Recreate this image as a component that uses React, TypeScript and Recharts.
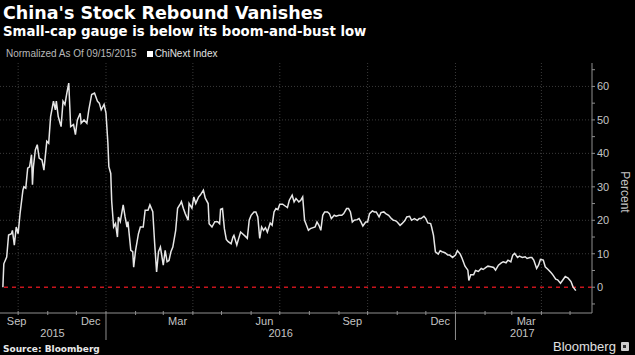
import { LineChart, Line, XAxis, YAxis, CartesianGrid, ReferenceLine } from 'recharts'

document.body.style.margin = '0'
document.body.style.background = '#000'

// ChiNext Index, percent change since 09/15/2015 (one row per month)
const dates = [
  '2015-09-15', '2015-09-16', '2015-09-19', '2015-09-21', '2015-09-24', '2015-09-25', '2015-09-27', '2015-09-29',
  '2015-10-01', '2015-10-03', '2015-10-06', '2015-10-07', '2015-10-09', '2015-10-11', '2015-10-13', '2015-10-15', '2015-10-16', '2015-10-17', '2015-10-19', '2015-10-21', '2015-10-23', '2015-10-26', '2015-10-28', '2015-10-31',
  '2015-11-02', '2015-11-04', '2015-11-07', '2015-11-09', '2015-11-10', '2015-11-12', '2015-11-15', '2015-11-17', '2015-11-19', '2015-11-21', '2015-11-23', '2015-11-25', '2015-11-28', '2015-11-30',
  '2015-12-02', '2015-12-05', '2015-12-06', '2015-12-09', '2015-12-12', '2015-12-14', '2015-12-17', '2015-12-20', '2015-12-23', '2015-12-25', '2015-12-27', '2015-12-30',
  '2016-01-01', '2016-01-03', '2016-01-04', '2016-01-06', '2016-01-07', '2016-01-09', '2016-01-11', '2016-01-13', '2016-01-14', '2016-01-16', '2016-01-19', '2016-01-21', '2016-01-23', '2016-01-24', '2016-01-27', '2016-01-29', '2016-01-30',
  '2016-02-01', '2016-02-04', '2016-02-06', '2016-02-09', '2016-02-11', '2016-02-14', '2016-02-16', '2016-02-19', '2016-02-21', '2016-02-23', '2016-02-25', '2016-02-27',
  '2016-03-01', '2016-03-03', '2016-03-05', '2016-03-07', '2016-03-09', '2016-03-11', '2016-03-14', '2016-03-16', '2016-03-19', '2016-03-20', '2016-03-22', '2016-03-24', '2016-03-27', '2016-03-28', '2016-03-31',
  '2016-04-02', '2016-04-04', '2016-04-07', '2016-04-09', '2016-04-12', '2016-04-14', '2016-04-17', '2016-04-18', '2016-04-21', '2016-04-24', '2016-04-27', '2016-04-29', '2016-04-30',
  '2016-05-02', '2016-05-04', '2016-05-06', '2016-05-08', '2016-05-11', '2016-05-13', '2016-05-14', '2016-05-17', '2016-05-19', '2016-05-21', '2016-05-23', '2016-05-26', '2016-05-28', '2016-05-30',
  '2016-06-01', '2016-06-04', '2016-06-06', '2016-06-08', '2016-06-10', '2016-06-12', '2016-06-14', '2016-06-16', '2016-06-18', '2016-06-21', '2016-06-23', '2016-06-25', '2016-06-27', '2016-06-29',
  '2016-07-01', '2016-07-04', '2016-07-07', '2016-07-09', '2016-07-11', '2016-07-14', '2016-07-16', '2016-07-18', '2016-07-21', '2016-07-23', '2016-07-25', '2016-07-27', '2016-07-29', '2016-07-31',
  '2016-08-02', '2016-08-05', '2016-08-07', '2016-08-09', '2016-08-11', '2016-08-13', '2016-08-15', '2016-08-17', '2016-08-20', '2016-08-22', '2016-08-24', '2016-08-27', '2016-08-29',
  '2016-09-01', '2016-09-04', '2016-09-06', '2016-09-09', '2016-09-11', '2016-09-13', '2016-09-15', '2016-09-17', '2016-09-20', '2016-09-22', '2016-09-24', '2016-09-26', '2016-09-29',
  '2016-10-01', '2016-10-03', '2016-10-06', '2016-10-08', '2016-10-10', '2016-10-13', '2016-10-15', '2016-10-18', '2016-10-20', '2016-10-23', '2016-10-26', '2016-10-28', '2016-10-30',
  '2016-11-01', '2016-11-04', '2016-11-06', '2016-11-09', '2016-11-11', '2016-11-14', '2016-11-16', '2016-11-19', '2016-11-22', '2016-11-24', '2016-11-26', '2016-11-29',
  '2016-12-01', '2016-12-03', '2016-12-06', '2016-12-07', '2016-12-09', '2016-12-11', '2016-12-14', '2016-12-16', '2016-12-18', '2016-12-21', '2016-12-24', '2016-12-26', '2016-12-29',
  '2017-01-01', '2017-01-03', '2017-01-06', '2017-01-08', '2017-01-11', '2017-01-14', '2017-01-15', '2017-01-17', '2017-01-20', '2017-01-22', '2017-01-25', '2017-01-28', '2017-01-30',
  '2017-02-02', '2017-02-04', '2017-02-07', '2017-02-10', '2017-02-12', '2017-02-15', '2017-02-18', '2017-02-20', '2017-02-23', '2017-02-25', '2017-02-28',
  '2017-03-02', '2017-03-04', '2017-03-07', '2017-03-09', '2017-03-12', '2017-03-15', '2017-03-17', '2017-03-20', '2017-03-22', '2017-03-24', '2017-03-27', '2017-03-29', '2017-03-31',
  '2017-04-03', '2017-04-05', '2017-04-08', '2017-04-11', '2017-04-13', '2017-04-16', '2017-04-18', '2017-04-21', '2017-04-24', '2017-04-26', '2017-04-29',
  '2017-05-02', '2017-05-04', '2017-05-07',
]

const chinext = [
  0, 7, 9, 15.6, 16, 17, 12.6, 18,
  16, 22, 29, 30, 29.6, 35.6, 36, 39.6, 30.6, 36, 41, 42.6, 38.6, 38, 35, 43.6,
  43, 51, 55.6, 53, 55.6, 51, 48, 55.6, 54.6, 58, 61, 48, 48.6, 45.6,
  50, 52, 49, 50, 49, 53, 57.6, 58, 55.6, 55, 53, 54.6,
  52, 43, 36, 34, 25.6, 18, 19, 15, 21, 19.6, 24.6, 21, 18, 19.6, 11, 10.6, 6,
  11, 16, 18, 18, 23, 23, 24.6, 22.6, 13, 4.6, 10.6, 12,
  6.6, 11, 7.6, 8, 10.6, 12, 17, 23.6, 25, 25.6, 23.6, 22, 20, 25, 23.6,
  27, 25, 27, 27.6, 29, 26.6, 25, 19, 18, 19.6, 19.6, 19, 23.3,
  23.5, 17.5, 14.3, 13.6, 13, 15, 15.5, 12.6, 14.6, 16.5, 16, 15.2, 14.6, 20,
  21.5, 22.5, 22.5, 21, 14.6, 18, 17, 17.8, 16.5, 19.2, 18.5, 22.5, 23.5, 23.2,
  24.8, 24.8, 24.2, 23.8, 26, 27.5, 25.5, 26.5, 25.5, 26, 27, 20, 18.5, 17,
  17.5, 17.8, 18, 19.5, 18.5, 17, 21.5, 22.5, 22.5, 22, 20.5, 21.5, 21.2,
  21.5, 21.5, 22, 23.5, 23.5, 22.5, 19.5, 20, 20.2, 20.5, 19.5, 18.3, 19.5,
  19.5, 22, 22.8, 22.5, 22.5, 21, 22.3, 22.5, 22, 21.5, 20.5, 20, 19.9,
  19.5, 18.5, 19, 19.9, 21, 21.2, 20, 20.5, 20, 20.5, 20.5, 21.2,
  20.5, 19.2, 19, 18, 15.5, 10.6, 9.9, 10.9, 10.6, 10.3, 9.6, 9.6, 8.9,
  9.6, 10.9, 9.9, 8.6, 6.3, 5.1, 2, 3.7, 3.7, 5, 4.7, 5.6, 5.3,
  5.9, 6.3, 6.1, 5.9, 5.1, 6.6, 7.3, 7.6, 7.3, 8.1, 7.6,
  9.6, 10.1, 8.9, 9.3, 8.9, 9.1, 8.6, 8.9, 8.9, 8.1, 5.6, 6.6, 8.3,
  8.1, 6.1, 5.3, 4.4, 3.7, 2.4, 2.2, 1.2, 2.4, 3.2, 2.7,
  1.7, 0.2, -1,
]

const xStart = '2015-09-12'
const xEnd = '2017-05-24'
const monthStarts = [
  '2015-10-01', '2015-11-01', '2015-12-01', '2016-01-01', '2016-02-01', '2016-03-01', '2016-04-01',
  '2016-05-01', '2016-06-01', '2016-07-01', '2016-08-01', '2016-09-01', '2016-10-01', '2016-11-01',
  '2016-12-01', '2017-01-01', '2017-02-01', '2017-03-01', '2017-04-01', '2017-05-01',
]
const quarterStarts = ['2015-10-01', '2016-01-01', '2016-04-01', '2016-07-01', '2016-10-01', '2017-01-01', '2017-04-01']
const monthLabels = ['Sep', 'Dec', 'Mar', 'Jun', 'Sep', 'Dec', 'Mar']
const monthLabelDates = ['2015-09-15', '2015-12-16', '2016-03-16', '2016-06-15', '2016-09-15', '2016-12-16', '2017-03-16']
const yearLabels = ['2015', '2016', '2017']
const yearLabelDates = ['2015-11-06', '2016-07-02', '2017-03-12']
const yTicks = [-5, 0, 5, 10, 15, 20, 25, 30, 35, 40, 45, 50, 55, 60, 65]
const yLabels = [0, 10, 20, 30, 40, 50, 60]

const toTime = (d: string) => new Date(d + 'T00:00:00Z').getTime()

const data = dates.map((d, i) => ({ t: toTime(d), v: chinext[i] }))

type TickInfo = { kind: 'start' | 'month' | 'year'; label?: string; first?: boolean }
const tickInfo = new Map<number, TickInfo>()
monthStarts.forEach((d) => tickInfo.set(toTime(d), { kind: 'start' }))
monthLabelDates.forEach((d, i) => tickInfo.set(toTime(d), { kind: 'month', label: monthLabels[i], first: i === 0 }))
yearLabelDates.forEach((d, i) => tickInfo.set(toTime(d), { kind: 'year', label: yearLabels[i] }))
const xTicks = Array.from(tickInfo.keys()).sort((a, b) => a - b)

const AXIS = '#8f8f8f'
const LABEL = '#c4c4c4'
const FONT = '"Liberation Sans", Arial, sans-serif'

function XTick(props: any) {
  const { x, y, payload } = props
  const info = tickInfo.get(payload.value)
  if (!info) return <g />
  if (info.kind === 'start') {
    const isJan = new Date(payload.value).getUTCMonth() === 0
    return <line x1={x} x2={x} y1={y - 2} y2={isJan ? y + 27 : y + 2} stroke={AXIS} strokeWidth={1} />
  }
  if (info.kind === 'month') {
    return (
      <text x={info.first ? x + 4 : x} y={y + 12} textAnchor={info.first ? 'start' : 'middle'} fill={LABEL} fontSize={11} fontFamily={FONT}>
        {info.label}
      </text>
    )
  }
  return (
    <text x={x} y={y + 24} textAnchor="middle" fill={LABEL} fontSize={11} fontFamily={FONT}>
      {info.label}
    </text>
  )
}

function YTick(props: any) {
  const { x, y, payload } = props
  const v = payload.value as number
  return (
    <g>
      <line x1={x} x2={x + 3} y1={y} y2={y} stroke={AXIS} />
      {yLabels.includes(v) && (
        <text x={x + 5} y={y + 4} fill={LABEL} fontSize={11} fontFamily={FONT}>
          {v}
        </text>
      )}
    </g>
  )
}

export default function App() {
  return (
    <div style={{ position: 'relative', width: 635, height: 355, background: '#000', overflow: 'hidden' }}>
      <div style={{ position: 'absolute', left: 3, top: 5, fontFamily: '"DejaVu Sans", sans-serif', fontWeight: 'bold', fontSize: 17.5, lineHeight: 1, color: '#fff', whiteSpace: 'nowrap' }}>
        China's Stock Rebound Vanishes
      </div>
      <div style={{ position: 'absolute', left: 3, top: 25, fontFamily: '"DejaVu Sans", sans-serif', fontWeight: 'bold', fontSize: 13.3, lineHeight: 1, color: '#fff', whiteSpace: 'nowrap' }}>
        Small-cap gauge is below its boom-and-bust low
      </div>
      <div style={{ position: 'absolute', left: 6, top: 49, fontFamily: FONT, fontSize: 10, lineHeight: 1, color: '#b8b8b8', whiteSpace: 'nowrap', display: 'flex', alignItems: 'center' }}>
        <span>Normalized As Of 09/15/2015</span>
        <span style={{ display: 'inline-block', width: 6, height: 6, background: '#fff', marginLeft: 10, marginRight: 2 }} />
        <span style={{ color: '#e0e0e0' }}>ChiNext Index</span>
      </div>

      <div style={{ position: 'absolute', left: 0, top: 0 }}>
        <LineChart width={635} height={355} data={data} margin={{ top: 63, right: 0, bottom: 0, left: 0 }}>
          <CartesianGrid
            stroke="#3a3a3a"
            strokeDasharray="1 2"
            horizontalValues={[10, 20, 30, 40, 50, 60]}
            verticalValues={quarterStarts.map(toTime)}
          />
          <XAxis
            dataKey="t"
            type="number"
            scale="time"
            domain={[toTime(xStart), toTime(xEnd)]}
            allowDataOverflow
            ticks={xTicks}
            interval={0}
            tickSize={0}
            tickMargin={0}
            tickLine={false}
            axisLine={{ stroke: AXIS }}
            height={42}
            tick={(p: any) => <XTick {...p} />}
          />
          <YAxis
            orientation="right"
            type="number"
            domain={[-7.7, 67]}
            allowDataOverflow
            ticks={yTicks}
            interval={0}
            tickSize={0}
            tickMargin={0}
            tickLine={false}
            axisLine={{ stroke: AXIS }}
            width={43}
            tick={(p: any) => <YTick {...p} />}
          />
          <ReferenceLine y={0} stroke="#c8141c" strokeWidth={1.5} strokeDasharray="4 4" />
          <Line type="linear" dataKey="v" stroke="#e6e6e6" strokeWidth={1.5} dot={false} isAnimationActive={false} />
        </LineChart>
      </div>

      <div style={{ position: 'absolute', left: 625, top: 192, transform: 'translate(-50%, -50%) rotate(90deg)', fontFamily: FONT, fontSize: 12, color: LABEL, whiteSpace: 'nowrap' }}>
        Percent
      </div>
      <div style={{ position: 'absolute', left: 3, top: 345, fontFamily: '"DejaVu Sans", sans-serif', fontWeight: 'bold', fontSize: 9, lineHeight: 1, color: '#e8e8e8', whiteSpace: 'nowrap' }}>
        Source: Bloomberg
      </div>
      <div style={{ position: 'absolute', left: 553, top: 340, fontFamily: FONT, fontSize: 13, lineHeight: 1, color: '#e0e0e0', whiteSpace: 'nowrap', display: 'flex', alignItems: 'center' }}>
        <span>Bloomberg</span>
        <span style={{ display: 'inline-block', width: 8, height: 9, marginLeft: 5, background: '#cfcfcf', borderRadius: 1, position: 'relative' }}>
          <span style={{ position: 'absolute', left: 2, top: 3, width: 3, height: 3, background: '#333' }} />
        </span>
      </div>
    </div>
  )
}
